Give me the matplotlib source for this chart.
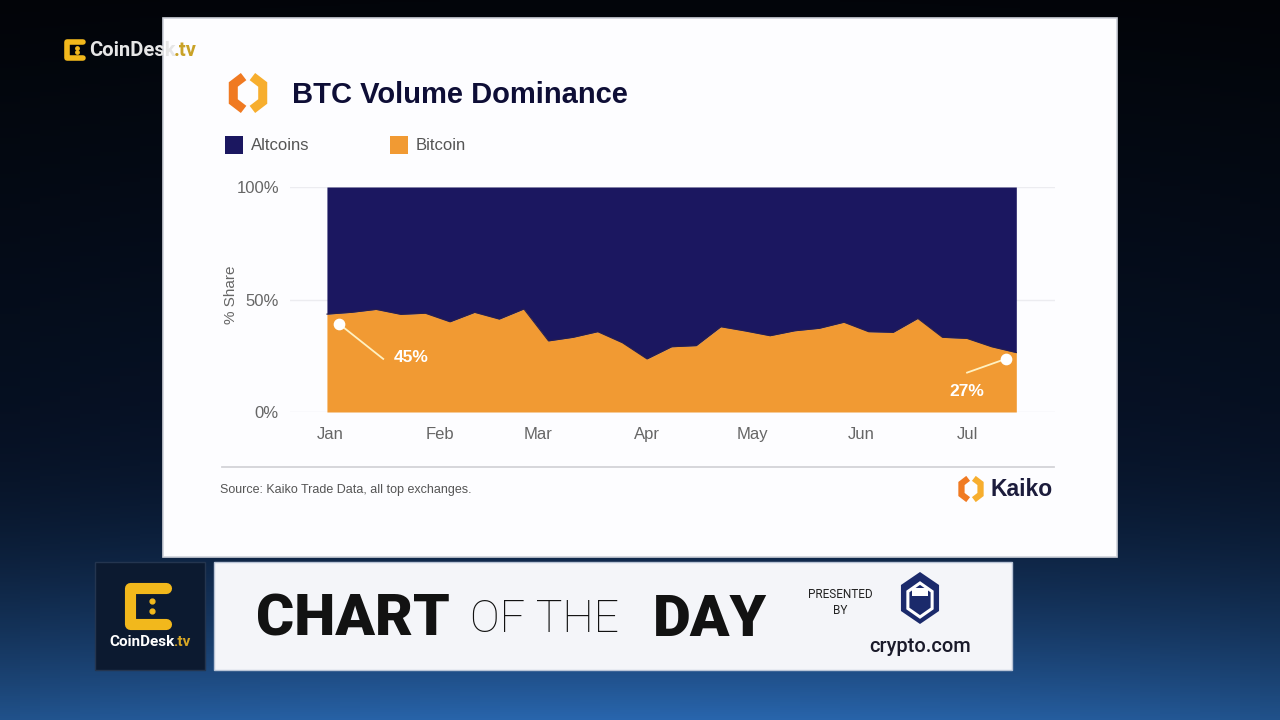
import numpy as np
import pandas as pd
import matplotlib.pyplot as plt
import matplotlib.dates as mdates
from matplotlib.patches import Rectangle, Polygon

# weekly BTC share of spot volume (%)
weeks = pd.date_range('2022-01-01', periods=29, freq='7D')
bitcoin = [43.5, 44.3, 45.6, 43.4, 43.9, 40.1, 44.3, 41.3, 45.8, 31.6,
           33.2, 35.7, 30.8, 23.6, 29.0, 29.5, 37.9, 36.0, 33.9, 36.1,
           37.2, 39.9, 35.7, 35.4, 41.6, 33.2, 32.7, 29.0, 26.4]
altcoins = [100 - b for b in bitcoin]
series_names = ['Altcoins', 'Bitcoin']
first_label, last_label = '45%', '27%'
y_ticks = [0, 50, 100]
y_ticklabels = ['0%', '50%', '100%']

NAVY = '#1b1760'
ORANGE = '#f19a33'
GREY = '#666666'
ARIAL = ['Liberation Sans', 'DejaVu Sans']
BANNER = ['Roboto', 'DejaVu Sans']

W, H = 1280, 720


def fx(px):
    return px / W


def fy(py):
    return 1 - py / H


fig = plt.figure(figsize=(12.8, 7.2), dpi=100)
renderer = fig.canvas.get_renderer()

# studio background: dark at the top, blue glow near the floor
bg = fig.add_axes([0, 0, 1, 1])
rows = np.linspace(0, 1, 360)[:, None]
top = np.array([0.01, 0.02, 0.04])
mid = np.array([0.03, 0.08, 0.17])
low = np.array([0.16, 0.40, 0.68])
t = np.clip((rows - 0.55) / 0.45, 0, 1)
col = top + (mid - top) * np.clip(rows / 0.6, 0, 1) + (low - mid) * t ** 2.0
xs = np.linspace(-1, 1, 64)
vign = 1 - 0.2 * xs ** 2
img = col[:, None, :] * vign[None, :, None]
bg.imshow(np.clip(img, 0, 1), aspect='auto', extent=[0, W, H, 0])
bg.set_xlim(0, W)
bg.set_ylim(H, 0)
bg.axis('off')

# white chart card
bg.add_patch(Rectangle((163, 18), 954, 539, facecolor='#fdfdff',
                       edgecolor='#cfd2da', lw=1.2))


def kaiko_logo(cx, cy, r, lw):
    ang = np.deg2rad(np.array([105, 150, 210, 255]))
    bg.plot(cx + r * np.cos(ang), cy - r * np.sin(ang), color='#f07a22',
            lw=lw, solid_capstyle='butt', solid_joinstyle='miter')
    ang = np.deg2rad(np.array([-75, -30, 30, 75]))
    bg.plot(cx + r * np.cos(ang), cy - r * np.sin(ang), color='#f7ae2e',
            lw=lw, solid_capstyle='butt', solid_joinstyle='miter')


def two_part(x, y, a, b, size, c1, c2, ha='left', **kw):
    # draw text a then b right after it, same baseline
    t1 = fig.text(fx(x), fy(y), a, fontsize=size, color=c1, va='center',
                  ha='left', **kw)
    t2 = fig.text(fx(x), fy(y), b, fontsize=size, color=c2, va='center',
                  ha='left', **kw)
    w1 = t1.get_window_extent(renderer).width - 1.5
    w2 = t2.get_window_extent(renderer).width
    x0 = x - (w1 + w2) / 2 if ha == 'center' else x
    t1.set_x(fx(x0))
    t2.set_x(fx(x0 + w1))


kaiko_logo(248, 93, 17, 6.5)
fig.text(fx(292), fy(95), 'BTC Volume Dominance', fontsize=21,
         fontweight='bold', color='#0e0e36', va='center', ha='left',
         family=ARIAL)

# legend
bg.add_patch(Rectangle((225, 136), 18, 18, facecolor=NAVY))
fig.text(fx(251), fy(145), series_names[0], fontsize=12, color='#555555',
         va='center', family=ARIAL)
bg.add_patch(Rectangle((390, 136), 18, 18, facecolor=ORANGE))
fig.text(fx(416), fy(145), series_names[1], fontsize=12, color='#555555',
         va='center', family=ARIAL)

# main chart axes (pixels: x 290-1055, y 187-412)
ax = fig.add_axes([fx(290), fy(412), fx(1055) - fx(290), fy(187) - fy(412)])
ax.set_facecolor('none')
ax.fill_between(weeks, 0, bitcoin, color=ORANGE, lw=0, zorder=2)
ax.fill_between(weeks, bitcoin, 100, color=NAVY, lw=0, zorder=2)
ax.plot(weeks, bitcoin, color='#2a1f4a', lw=0.8, zorder=3)
ax.set_xlim(weeks[0] - pd.Timedelta(days=10.5),
            weeks[-1] + pd.Timedelta(days=11))
ax.set_ylim(0, 100)
ax.set_yticks(y_ticks)
ax.set_yticklabels(y_ticklabels)
ax.yaxis.grid(True, color='#ececf0', lw=1)
ax.set_axisbelow(True)
ax.xaxis.set_major_locator(mdates.MonthLocator(bymonthday=2))
ax.xaxis.set_major_formatter(mdates.DateFormatter('%b'))
ax.tick_params(length=0, labelsize=12, labelcolor=GREY)
ax.tick_params(axis='y', pad=8)
ax.tick_params(axis='x', pad=11)
for lab in ax.get_xticklabels() + ax.get_yticklabels():
    lab.set_family(ARIAL)
for s in ax.spines.values():
    s.set_visible(False)
ax.set_ylabel('% Share', fontsize=11, color=GREY, family=ARIAL)
ax.yaxis.set_label_coords(-0.068, 0.52)

# call-outs for the first and last values
d0 = weeks[0]
p1 = d0 + pd.Timedelta(days=3.5)
ax.plot([p1, d0 + pd.Timedelta(days=16)], [39.1, 23.6], color='#fff1c2',
        lw=1.3, zorder=4)
ax.scatter([p1], [39.1], s=55, color='white', zorder=5)
ax.text(d0 + pd.Timedelta(days=24), 24, first_label, color='white',
        fontsize=12.5, fontweight='bold', ha='center', va='center', zorder=5,
        family=ARIAL)
p2 = d0 + pd.Timedelta(days=193)
ax.plot([p2, d0 + pd.Timedelta(days=182)], [23.6, 17.5], color='#fff1c2',
        lw=1.3, zorder=4)
ax.scatter([p2], [23.6], s=55, color='white', zorder=5)
ax.text(d0 + pd.Timedelta(days=182), 9.3, last_label, color='white',
        fontsize=12.5, fontweight='bold', ha='center', va='center', zorder=5,
        family=ARIAL)

# footer of the card
bg.plot([222, 1054], [467, 467], color='#d4d4d8', lw=1.3)
fig.text(fx(220), fy(490), 'Source: Kaiko Trade Data, all top exchanges.',
         fontsize=9, color='#555555', va='center', family=ARIAL)
kaiko_logo(971, 489, 11, 4.5)
fig.text(fx(991), fy(490), 'Kaiko', fontsize=16.5, fontweight='bold',
         color='#1c1c3c', va='center', family=ARIAL)


# top-left channel bug
def coindesk_icon(x0, y0, s, lw):
    bg.plot([x0 + s, x0, x0, x0 + s], [y0, y0, y0 + s, y0 + s],
            color='#f2b81c', lw=lw, solid_capstyle='round',
            solid_joinstyle='round')
    bg.scatter([x0 + 0.6 * s, x0 + 0.6 * s], [y0 + 0.35 * s, y0 + 0.65 * s],
               s=lw * 1.5, color='#f2b81c', zorder=5)


coindesk_icon(67, 42, 16, 4)
two_part(89, 51, 'CoinDesk', '.tv', 14.5, '#e6e6e6', '#c9a227',
         fontweight='bold', family=BANNER)

# lower-third banner
bg.add_patch(Rectangle((95, 562), 110, 108, facecolor='#0c1a30',
                       edgecolor='#24354f', lw=1))
coindesk_icon(130, 588, 36, 8)
two_part(150, 642, 'CoinDesk', '.tv', 11, 'white', '#d6a625', ha='center',
         fontweight='bold', family=BANNER)

bg.add_patch(Rectangle((214, 562), 798, 108, facecolor='#f4f5f9',
                       edgecolor='#b9c4d6', lw=1))
fig.text(fx(256), fy(620), 'CHART', fontsize=42, fontweight='black',
         family=BANNER, color='#121212', va='center')
fig.text(fx(470), fy(620), 'OF THE', fontsize=32, fontweight='light',
         family=BANNER, color='#121212', va='center')
fig.text(fx(653), fy(620), 'DAY', fontsize=42, fontweight='black',
         family=BANNER, color='#121212', va='center')
fig.text(fx(840), fy(594), 'PRESENTED', fontsize=8.5, color='#222222',
         va='center', ha='center', family=BANNER)
fig.text(fx(840), fy(610), 'BY', fontsize=8.5, color='#222222',
         va='center', ha='center', family=BANNER)

# crypto.com mark
ang = np.deg2rad(np.arange(90, 450, 60))
hexa = np.c_[920 + 22 * np.cos(ang), 598 - 26 * np.sin(ang)]
bg.add_patch(Polygon(hexa, closed=True, facecolor='#1b2a6b'))
inner = np.c_[920 + 14 * np.cos(ang), 600 - 17 * np.sin(ang)]
bg.add_patch(Polygon(inner, closed=True, facecolor='none',
                     edgecolor='white', lw=2.2))
bg.add_patch(Rectangle((912, 588), 16, 8, facecolor='white'))
fig.text(fx(920), fy(647), 'crypto.com', fontsize=14.5, fontweight='medium',
         color='#1a1a2a', va='center', ha='center', family=BANNER)

fig.savefig('out.png', dpi=100)
